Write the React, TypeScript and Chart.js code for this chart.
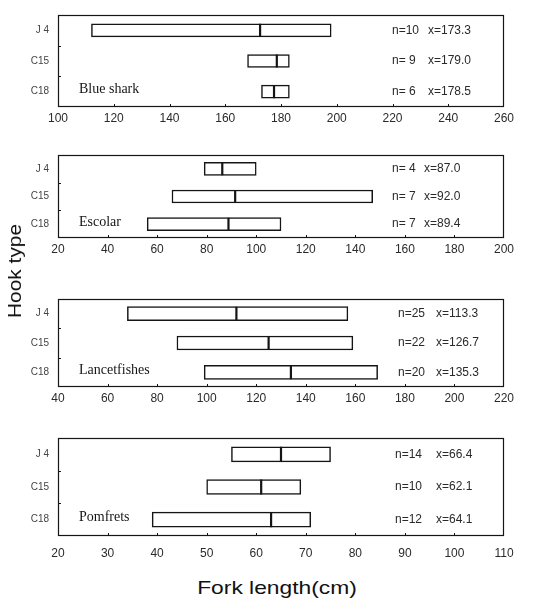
import React, { useEffect, useRef } from 'react';
import { Chart, registerables } from 'chart.js';

Chart.register(...registerables);

// ---- data ----
const hookTypes = ['J 4', 'C15', 'C18'];

const speciesNames = ['Blue shark', 'Escolar', 'Lancetfishes', 'Pomfrets'];
const axisMin = [100, 20, 40, 20];
const axisMax = [260, 200, 220, 110];
const axisStep = [20, 20, 20, 10];

const blueSharkMin = [112, 168, 173];
const blueSharkMax = [198, 183, 183];
const blueSharkMark = [172.5, 178.5, 177.5];
const blueSharkN = [10, 9, 6];
const blueSharkMean = ['173.3', '179.0', '178.5'];

const escolarMin = [79, 66, 56];
const escolarMax = [100, 147, 110];
const escolarMark = [86.3, 91.5, 88.8];
const escolarN = [4, 7, 7];
const escolarMean = ['87.0', '92.0', '89.4'];

const lancetMin = [68, 88, 99];
const lancetMax = [157, 159, 169];
const lancetMark = [112, 125, 134];
const lancetN = [25, 22, 20];
const lancetMean = ['113.3', '126.7', '135.3'];

const pomfretMin = [55, 50, 39];
const pomfretMax = [75, 69, 71];
const pomfretMark = [65, 61, 63];
const pomfretN = [14, 10, 12];
const pomfretMean = ['66.4', '62.1', '64.1'];

const seriesMin = [blueSharkMin, escolarMin, lancetMin, pomfretMin];
const seriesMax = [blueSharkMax, escolarMax, lancetMax, pomfretMax];
const seriesMark = [blueSharkMark, escolarMark, lancetMark, pomfretMark];
const seriesN = [blueSharkN, escolarN, lancetN, pomfretN];
const seriesMean = [blueSharkMean, escolarMean, lancetMean, pomfretMean];

// ---- layout (page pixels) ----
const panelLayout = [
  { plotTop: 4, plotBottom: 107, bar: 13, tickPad: 4, nX: 392, xX: 428 },
  { plotTop: 144, plotBottom: 238, bar: 13, tickPad: 4, nX: 392, xX: 424 },
  { plotTop: 288, plotBottom: 387, bar: 14, tickPad: 4, nX: 398, xX: 436 },
  { plotTop: 427, plotBottom: 536, bar: 15, tickPad: 10, nX: 395, xX: 436 },
];
const PAD_TOP = 4;
const XAXIS_H = 24;
const YAXIS_W = 58;
const PLOT_RIGHT = 504;
const W = 539;

const INK = '#151515';
const TEXT = '#2a2a2a';

function Panel({ idx }: { idx: number }) {
  const ref = useRef<HTMLCanvasElement | null>(null);
  const lay = panelLayout[idx];
  const height = lay.plotBottom - lay.plotTop + PAD_TOP + XAXIS_H;
  const top = lay.plotTop - PAD_TOP;

  useEffect(() => {
    if (!ref.current) return;
    const mins = seriesMin[idx];
    const maxs = seriesMax[idx];
    const marks = seriesMark[idx];
    const ns = seriesN[idx];
    const means = seriesMean[idx];

    const framePlugin = {
      id: 'frame' + idx,
      afterDraw(chart: any) {
        const { ctx, chartArea, scales } = chart;
        const { left, top: t, right, bottom } = chartArea;
        ctx.save();
        ctx.strokeStyle = INK;
        ctx.lineWidth = 1.2;
        ctx.strokeRect(left + 0.5, t + 0.5, right - left - 1, bottom - t - 1);
        // inner tick marks
        ctx.lineWidth = 1;
        scales.x.ticks.forEach((tk: any) => {
          const px = Math.round(scales.x.getPixelForValue(tk.value)) + 0.5;
          if (px > left + 3 && px < right - 3) {
            ctx.beginPath();
            ctx.moveTo(px, bottom);
            ctx.lineTo(px, bottom - 3);
            ctx.stroke();
          }
        });
        for (let i = 0; i < hookTypes.length - 1; i++) {
          const py = Math.round((scales.y.getPixelForValue(i) + scales.y.getPixelForValue(i + 1)) / 2) + 0.5;
          ctx.beginPath();
          ctx.moveTo(left, py);
          ctx.lineTo(left + 3, py);
          ctx.stroke();
        }
        // annotations
        ctx.fillStyle = TEXT;
        ctx.font = '12px "Liberation Sans", Arial, sans-serif';
        ctx.textBaseline = 'middle';
        ctx.textAlign = 'left';
        hookTypes.forEach((_, i) => {
          const py = scales.y.getPixelForValue(i);
          const nTxt = ns[i] < 10 ? 'n= ' + ns[i] : 'n=' + ns[i];
          ctx.fillText(nTxt, lay.nX, py);
          ctx.fillText('x=' + means[i], lay.xX, py);
        });
        // species name
        ctx.fillStyle = INK;
        ctx.font = '14px "Liberation Serif", "Times New Roman", serif';
        ctx.fillText(speciesNames[idx], left + 21, scales.y.getPixelForValue(hookTypes.length - 1) - 2);
        ctx.restore();
      },
    };

    const chart = new Chart(ref.current, {
      type: 'bar',
      data: {
        labels: hookTypes,
        datasets: [
          {
            type: 'bar',
            data: mins.map((m, i) => [m, maxs[i]]) as any,
            backgroundColor: '#ffffff',
            borderColor: INK,
            borderWidth: 1.5,
            borderSkipped: false,
            barThickness: lay.bar,
            order: 2,
          } as any,
          {
            type: 'scatter',
            data: marks.map((v, i) => ({ x: v, y: hookTypes[i] })) as any,
            pointStyle: 'line',
            rotation: 90,
            radius: lay.bar / 2,
            borderColor: INK,
            backgroundColor: INK,
            borderWidth: 2.2,
            showLine: false,
            order: 1,
          } as any,
        ],
      },
      options: {
        indexAxis: 'y',
        animation: false,
        responsive: false,
        maintainAspectRatio: false,
        events: [],
        layout: { padding: { top: PAD_TOP, left: 0, right: W - PLOT_RIGHT, bottom: 0 } },
        plugins: { legend: { display: false }, tooltip: { enabled: false } },
        scales: {
          x: {
            type: 'linear',
            min: axisMin[idx],
            max: axisMax[idx],
            ticks: {
              stepSize: axisStep[idx],
              color: TEXT,
              padding: lay.tickPad,
              font: { family: '"Liberation Sans", Arial, sans-serif', size: 12 },
              maxRotation: 0,
            },
            grid: { display: false, drawTicks: false },
            border: { display: false },
            afterFit: (s: any) => { s.height = XAXIS_H; },
          },
          y: {
            type: 'category',
            offset: true,
            ticks: {
              color: '#444',
              padding: 9,
              font: { family: '"Liberation Sans", Arial, sans-serif', size: 10 },
            },
            grid: { display: false, drawTicks: false },
            border: { display: false },
            afterFit: (s: any) => { s.width = YAXIS_W; },
          },
        },
      } as any,
      plugins: [framePlugin],
    });
    return () => chart.destroy();
  }, [idx]);

  return (
    <canvas
      ref={ref}
      width={W}
      height={height}
      style={{ position: 'absolute', left: 0, top, width: W, height, display: 'block' }}
    />
  );
}

export default function App() {
  return (
    <div style={{ position: 'absolute', left: 0, top: 0, width: W, height: 599, background: '#fff', overflow: 'hidden' }}>
      {panelLayout.map((_, i) => (
        <Panel key={i} idx={i} />
      ))}
      <div
        style={{
          position: 'absolute',
          left: 277,
          top: 588,
          transform: 'translate(-50%, -50%) scaleX(1.2)',
          whiteSpace: 'nowrap',
          font: '19px "Liberation Sans", Arial, sans-serif',
          color: '#111',
        }}
      >
        Fork length(cm)
      </div>
      <div
        style={{
          position: 'absolute',
          left: 15,
          top: 271,
          transform: 'translate(-50%, -50%) rotate(-90deg) scaleX(1.1)',
          whiteSpace: 'nowrap',
          font: '19px "Liberation Sans", Arial, sans-serif',
          color: '#111',
        }}
      >
        Hook type
      </div>
    </div>
  );
}
